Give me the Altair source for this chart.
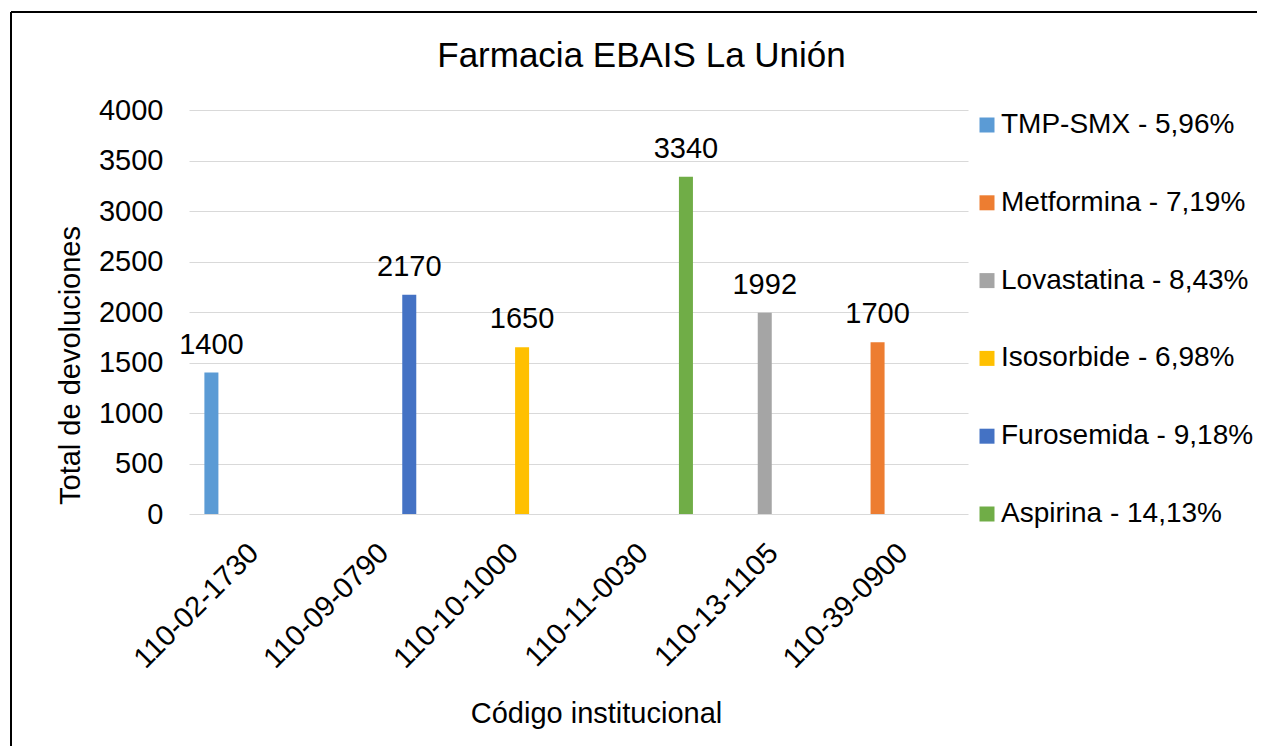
import altair as alt
import pandas as pd

# ---- data ----
codes = ["110-02-1730", "110-09-0790", "110-10-1000", "110-11-0030", "110-13-1105", "110-39-0900"]
series_order = ["TMP-SMX - 5,96%", "Metformina - 7,19%", "Lovastatina - 8,43%",
                "Isosorbide - 6,98%", "Furosemida - 9,18%", "Aspirina - 14,13%"]
series_colors = ["#5B9BD5", "#ED7D31", "#A5A5A5", "#FFC000", "#4472C4", "#70AD47"]
bar_series = ["TMP-SMX - 5,96%", "Furosemida - 9,18%", "Isosorbide - 6,98%",
              "Aspirina - 14,13%", "Lovastatina - 8,43%", "Metformina - 7,19%"]
totals = [1400, 2170, 1650, 3340, 1992, 1700]
y_ticks = [0, 500, 1000, 1500, 2000, 2500, 3000, 3500, 4000]

df = pd.DataFrame({"code": codes, "serie": bar_series, "total": totals})

FONT = "Liberation Sans"
FS = 29

x_enc = alt.X(
    "code:N", sort=codes,
    scale=alt.Scale(paddingInner=0.214, paddingOuter=0.107),
    axis=alt.Axis(
        title="Código institucional", labelAngle=315, labelAlign="right",
        labelBaseline="middle", labelPadding=34, ticks=False, domain=False,
        labelFont=FONT, labelFontSize=FS, labelColor="black", labelLimit=400,
        titleFont=FONT, titleFontSize=FS, titleFontWeight="normal", titleColor="black",
        titleX=407, titleY=208, titleBaseline="alphabetic", titleAlign="center",
    ),
)
xoff_enc = alt.XOffset(
    "serie:N",
    scale=alt.Scale(domain=series_order, paddingInner=0.176, paddingOuter=0.088),
)
y_enc = alt.Y(
    "total:Q",
    scale=alt.Scale(domain=[0, 4000], nice=False),
    axis=alt.Axis(
        title="Total de devoluciones", values=y_ticks, format="d", ticks=False, domain=False,
        grid=True, gridColor="#D9D9D9", gridWidth=1.2, labelPadding=26,
        labelFont=FONT, labelFontSize=FS, labelColor="black",
        titleFont=FONT, titleFontSize=FS, titleFontWeight="normal", titleColor="black",
        titleAngle=270, titleX=-110, titleY=255, titleBaseline="alphabetic", titleAlign="center",
    ),
)

bars = alt.Chart(df).mark_bar().encode(
    x=x_enc,
    xOffset=xoff_enc,
    y=y_enc,
    color=alt.Color(
        "serie:N",
        scale=alt.Scale(domain=series_order, range=series_colors),
        legend=alt.Legend(
            title=None, orient="none", legendX=784, legendY=1, padding=0,
            symbolType="square", symbolSize=225, symbolStrokeWidth=0,
            labelFont=FONT, labelFontSize=28, labelColor="black", labelLimit=400,
            labelOffset=0, rowPadding=49.8,
        ),
    ),
)

labels = alt.Chart(df).mark_text(
    dy=-19, baseline="alphabetic", align="center", font=FONT, fontSize=FS, color="black"
).encode(
    x=alt.X("code:N", sort=codes),
    xOffset=alt.XOffset("serie:N"),
    y=alt.Y("total:Q"),
    text=alt.Text("total:Q", format="d"),
)

frame_df = pd.DataFrame({"k": [0]})
top_border = alt.Chart(frame_df).mark_rule(color="black", strokeWidth=2).encode(
    x=alt.value(-178), x2=alt.value(1090), y=alt.value(-98)
)
left_border = alt.Chart(frame_df).mark_rule(color="black", strokeWidth=2).encode(
    x=alt.value(-178), y=alt.value(-98), y2=alt.value(650)
)

chart = alt.layer(bars, labels, top_border, left_border).properties(
    width=779,
    height=404,
    title=alt.TitleParams(
        "Farmacia EBAIS La Unión", font=FONT, fontSize=35, fontWeight="normal",
        color="black", anchor="middle", frame="group", baseline="alphabetic",
        offset=0, dy=91, dx=63,
    ),
    autosize=alt.AutoSizeParams(type="none"),
    padding={"left": 181, "top": 102, "right": 289, "bottom": 232},
    background="white",
).configure_view(stroke=None)

chart.save("out.html", embed_options={"renderer": "svg", "actions": False})
